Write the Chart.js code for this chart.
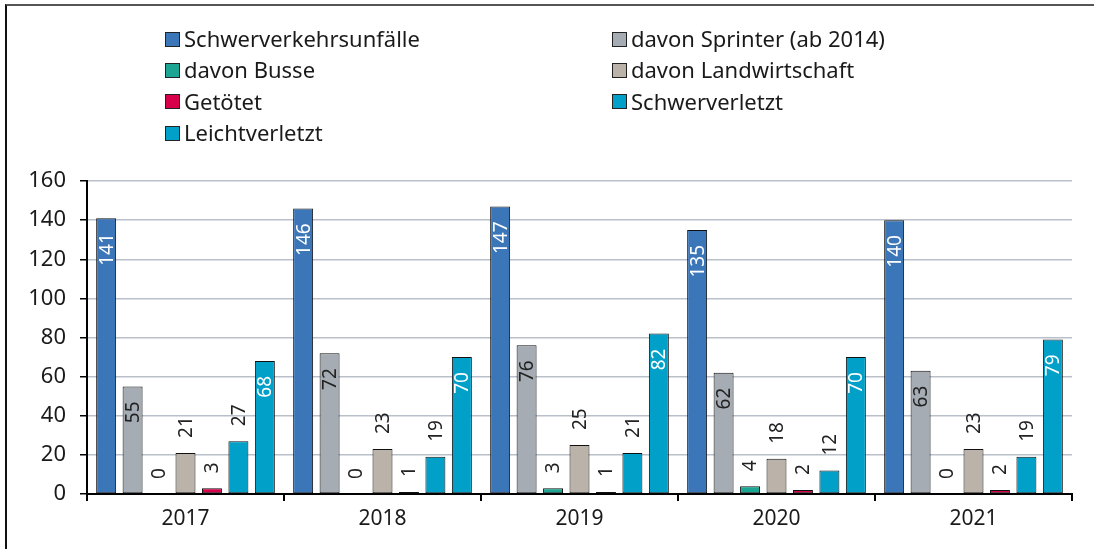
<!DOCTYPE html>
<html lang="de">
<head>
  <meta charset="UTF-8">
  <title>Schwerverkehrsunfälle</title>
  <script src="https://cdn.jsdelivr.net/npm/chart.js"></script>
  <style>
    html, body { margin: 0; padding: 0; background: #fff; overflow: hidden; }
    body { width: 1094px; height: 549px; position: relative; font-family: "Noto Sans", sans-serif; }
    .frame { position: absolute; left: 5px; top: 4px; width: 2000px; height: 2000px;
             border-left: 2px solid #111; border-top: 2px solid #555; }
    #chartWrap { position: absolute; left: 0; top: 0; width: 1094px; height: 549px; }
    .legend { position: absolute; top: 23px; left: 0; }
    .legend .item { position: absolute; white-space: nowrap; font-size: 22px; color: #1a1a1a;
                    line-height: 31px; height: 31px; }
    .legend .box { display: inline-block; width: 13px; height: 13px; border: 1px solid #222;
                   vertical-align: middle; margin-right: 4px; position: relative; top: -2px; }
  </style>
</head>
<body>
  <div class="frame"></div>
  <div id="chartWrap"><canvas id="chart" width="1094" height="549"></canvas></div>
  <div class="legend" id="legend"></div>

  <script>
    // Jahre
    const years = ['2017', '2018', '2019', '2020', '2021'];

    // Reihen
    const seriesNames = [
      'Schwerverkehrsunfälle',
      'davon Sprinter (ab 2014)',
      'davon Busse',
      'davon Landwirtschaft',
      'Getötet',
      'Schwerverletzt',
      'Leichtverletzt'
    ];
    const schwerverkehrsunfaelle = [141, 146, 147, 135, 140];
    const sprinter = [55, 72, 76, 62, 63];
    const busse = [0, 0, 3, 4, 0];
    const landwirtschaft = [21, 23, 25, 18, 23];
    const getoetet = [3, 1, 1, 2, 2];
    const schwerverletzt = [27, 19, 21, 12, 19];
    const leichtverletzt = [68, 70, 82, 70, 79];

    // y-Achse
    const yMin = 0;
    const yMax = 160;
    const yStep = 20;

    const seriesValues = [schwerverkehrsunfaelle, sprinter, busse, landwirtschaft, getoetet, schwerverletzt, leichtverletzt];
    const colors = ['#3b76b9', '#a5acb4', '#1ba592', '#bbb3a9', '#d6004b', '#00a0c9', '#00a0c9'];
    // label inside the bar (true) or above it (false), and its colour
    const labelInside = [true, true, false, false, false, false, true];
    const labelColor = ['#ffffff', '#222222', '#222222', '#222222', '#222222', '#222222', '#ffffff'];

    // Legend: two columns like the original
    const legendLayout = [
      { series: 0, x: 165, row: 0 },
      { series: 1, x: 612, row: 0 },
      { series: 2, x: 165, row: 1 },
      { series: 3, x: 612, row: 1 },
      { series: 4, x: 165, row: 2 },
      { series: 5, x: 612, row: 2 },
      { series: 6, x: 165, row: 3 }
    ];
    const legendEl = document.getElementById('legend');
    legendLayout.forEach(l => {
      const div = document.createElement('div');
      div.className = 'item';
      div.style.left = l.x + 'px';
      div.style.top = (l.row * 31.3) + 'px';
      div.innerHTML = `<span class="box" style="background:${colors[l.series]}"></span>${seriesNames[l.series]}`;
      legendEl.appendChild(div);
    });

    // simple value labels, rotated by 90 degrees
    const barLabels = {
      id: 'barLabels',
      afterDatasetsDraw(chart) {
        const ctx = chart.ctx;
        ctx.save();
        ctx.font = '19px "Noto Sans"';
        ctx.textBaseline = 'middle';
        chart.data.datasets.forEach((ds, i) => {
          const meta = chart.getDatasetMeta(i);
          meta.data.forEach((bar, j) => {
            const v = ds.data[j];
            ctx.save();
            ctx.translate(bar.x + 1, bar.y);
            ctx.rotate(-Math.PI / 2);
            ctx.fillStyle = labelColor[i];
            if (labelInside[i]) {
              ctx.textAlign = 'right';
              ctx.fillText(String(v), -15, 0);
            } else {
              ctx.textAlign = 'left';
              ctx.fillText(String(v), 15, 0);
            }
            ctx.restore();
          });
        });
        ctx.restore();
      }
    };

    const ctx = document.getElementById('chart').getContext('2d');
    new Chart(ctx, {
      type: 'bar',
      data: {
        labels: years,
        datasets: seriesNames.map((name, i) => ({
          label: name,
          data: seriesValues[i],
          backgroundColor: colors[i],
          borderColor: '#111',
          borderWidth: 1,
          borderSkipped: false,
          categoryPercentage: 0.94,
          barPercentage: 0.755
        }))
      },
      options: {
        responsive: false,
        animation: false,
        devicePixelRatio: 1,
        layout: { padding: { top: 181, right: 22, left: 0, bottom: 0 } },
        plugins: {
          legend: { display: false },
          tooltip: { enabled: false }
        },
        scales: {
          x: {
            afterFit(scale) { scale.height = 55; },
            grid: {
              offset: true,
              drawOnChartArea: false,
              drawTicks: true,
              tickLength: 7,
              tickColor: '#000',
              lineWidth: 2
            },
            border: { color: '#000', width: 2 },
            ticks: {
              color: '#1a1a1a',
              font: { family: 'Noto Sans', size: 21 },
              padding: 5
            }
          },
          y: {
            min: yMin,
            max: yMax,
            afterFit(scale) { scale.width = 87; },
            ticks: {
              stepSize: yStep,
              color: '#1a1a1a',
              font: { family: 'Noto Sans', size: 22 },
              padding: 14
            },
            grid: {
              color: '#b9c0c9',
              lineWidth: 1.5,
              tickColor: '#000',
              tickLength: 7
            },
            border: { color: '#000', width: 2 }
          }
        }
      },
      plugins: [barLabels]
    });
  </script>
</body>
</html>
